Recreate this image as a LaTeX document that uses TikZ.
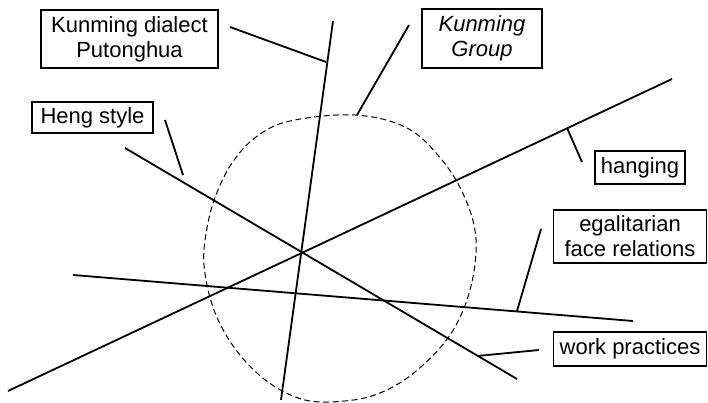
\documentclass[tikz,border=0pt]{standalone}
\usepackage{fontspec}
\setmainfont{Liberation Sans}
\begin{document}
\begin{tikzpicture}[x=1pt,y=-1pt,
  lbl/.style={draw, line width=1.4pt, font=\fontsize{22}{25}\selectfont, align=center, inner sep=0pt},
  mainline/.style={line width=1.8pt},
  leader/.style={line width=1.8pt},
  zone/.style={line width=1pt, dash pattern=on 6pt off 3.5pt}]
\useasboundingbox (0,0) rectangle (708,403);
% dashed zone
\draw[zone] plot[smooth cycle, tension=0.6] coordinates {
 (355,115) (407,128) (442,160) (465,198) (476,240) (470,290) (450,335) (415,372) (380,393) (345,401)
 (305,400) (268,382) (236,350) (214,310) (204,265) (207,228) (216,195) (232,163) (256,137) (290,121)};
% main lines
\coordinate (v1) at (333,21); \coordinate (v2) at (281,400);
\coordinate (h1) at (125,148); \coordinate (h2) at (517,379);
\coordinate (d1) at (8,391); \coordinate (d2) at (672,79);
\coordinate (e1) at (73,275); \coordinate (e2) at (633,321);
\draw[mainline] (v1) -- (v2);
\draw[mainline] (h1) -- (h2);
\draw[mainline] (d1) -- (d2);
\draw[mainline] (e1) -- (e2);
% labels
\node[lbl, minimum width=177pt, minimum height=58pt] (kd) at (129.5,39) {Kunming dialect\\Putonghua};
\node[lbl, minimum width=120pt, minimum height=59pt] (kg) at (482,38.5) {\itshape Kunming\\\itshape Group};
\node[lbl, minimum width=121pt, minimum height=31pt] (hs) at (92.5,117.5) {Heng style};
\node[lbl, minimum width=90pt, minimum height=33pt] (hg) at (640,167.5) {hanging};
\node[lbl, minimum width=153pt, minimum height=53pt] (eg) at (630,236.5) {egalitarian\\face relations};
\node[lbl, minimum width=153pt, minimum height=34pt] (wp) at (630,349) {work practices};
% leaders
\coordinate (kda) at (230,27); \coordinate (kdb) at (326,62);
\coordinate (kga) at (409,25); \coordinate (kgb) at (357,115);
\coordinate (hsa) at (165,120); \coordinate (hsb) at (183,175);
\coordinate (hga) at (582,162); \coordinate (hgb) at (567,128);
\coordinate (ega) at (541,229); \coordinate (egb) at (517,311);
\coordinate (wpa) at (539,350); \coordinate (wpb) at (477,356);
\draw[leader] (kda) -- (kdb);
\draw[leader] (kga) -- (kgb);
\draw[leader] (hsa) -- (hsb);
\draw[leader] (hga) -- (hgb);
\draw[leader] (ega) -- (egb);
\draw[leader] (wpa) -- (wpb);
\end{tikzpicture}
\end{document}
